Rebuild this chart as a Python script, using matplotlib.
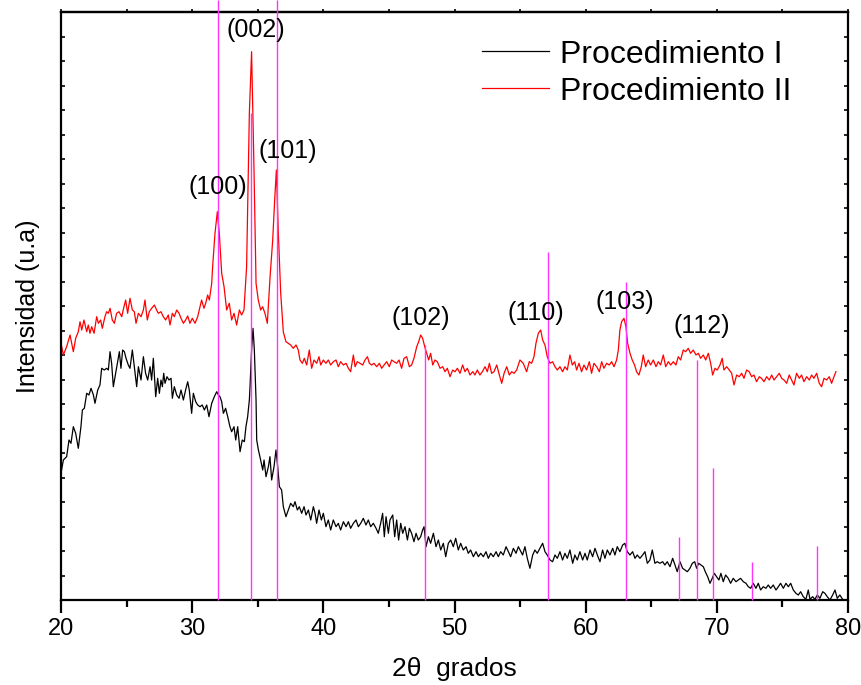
import numpy as np
import matplotlib.pyplot as plt
from matplotlib.ticker import MultipleLocator

plt.rcParams['font.family'] = ['Liberation Sans', 'DejaVu Sans']

# Procedimiento I (black)
two_theta_1 = [
    20.00, 20.18, 20.43, 20.61, 20.76, 20.94, 21.12, 21.32, 21.52, 21.63, 21.78, 21.96, 22.13, 22.29, 22.47,
    22.59, 22.80, 22.97, 23.10, 23.30, 23.48, 23.61, 23.74, 23.86, 23.99, 24.12, 24.29, 24.45, 24.57, 24.70,
    24.83, 24.96, 25.13, 25.26, 25.44, 25.59, 25.77, 25.90, 26.10, 26.28, 26.45, 26.61, 26.79, 26.91, 27.04,
    27.22, 27.37, 27.50, 27.62, 27.73, 27.83, 27.93, 28.08, 28.23, 28.39, 28.49, 28.64, 28.82, 29.00, 29.15,
    29.33, 29.50, 29.66, 29.78, 29.96, 30.09, 30.27, 30.42, 30.60, 30.77, 30.93, 31.11, 31.28, 31.49, 31.69,
    31.87, 32.00, 32.12, 32.25, 32.38, 32.55, 32.71, 32.88, 33.01, 33.19, 33.32, 33.47, 33.65, 33.82, 33.98,
    34.10, 34.23, 34.36, 34.41, 34.53, 34.64, 34.74, 34.87, 34.92, 35.05, 35.22, 35.38, 35.48, 35.63, 35.81,
    35.93, 36.06, 36.24, 36.39, 36.52, 36.65, 36.82, 36.95, 37.15, 37.33, 37.51, 37.71, 37.84, 38.02, 38.17,
    38.35, 38.53, 38.68, 38.86, 39.04, 39.24, 39.37, 39.49, 39.67, 39.85, 40.00, 40.20, 40.38, 40.56, 40.76,
    40.97, 41.14, 41.32, 41.53, 41.73, 41.91, 42.08, 42.29, 42.49, 42.67, 42.85, 43.05, 43.25, 43.43, 43.61,
    43.81, 44.02, 44.19, 44.37, 44.52, 44.65, 44.78, 44.96, 45.08, 45.29, 45.44, 45.59, 45.74, 45.90, 46.05,
    46.23, 46.41, 46.56, 46.73, 46.91, 47.07, 47.24, 47.42, 47.57, 47.68, 47.83, 48.01, 48.18, 48.39, 48.59,
    48.77, 48.95, 49.15, 49.33, 49.53, 49.71, 49.91, 50.09, 50.29, 50.47, 50.67, 50.88, 51.05, 51.23, 51.44,
    51.64, 51.82, 52.00, 52.20, 52.40, 52.58, 52.76, 52.96, 53.17, 53.34, 53.52, 53.72, 53.93, 54.11, 54.28,
    54.49, 54.69, 54.87, 55.19, 55.37, 55.55, 55.75, 55.96, 56.13, 56.31, 56.51, 56.72, 56.90, 57.07, 57.28,
    57.48, 57.66, 57.84, 58.04, 58.24, 58.42, 58.60, 58.80, 59.01, 59.18, 59.36, 59.56, 59.77, 59.95, 60.12,
    60.33, 60.53, 60.71, 60.89, 61.09, 61.29, 61.47, 61.65, 61.85, 62.06, 62.23, 62.41, 62.61, 62.82, 62.99,
    63.17, 63.38, 63.58, 63.76, 63.93, 64.14, 64.34, 64.52, 64.70, 64.90, 65.08, 65.28, 65.46, 65.66, 65.87,
    66.04, 66.22, 66.43, 66.63, 66.81, 66.98, 67.19, 67.39, 67.57, 67.75, 67.95, 68.13, 68.31, 68.46, 68.61,
    68.79, 68.97, 69.12, 69.30, 69.48, 69.65, 69.81, 69.98, 70.16, 70.31, 70.49, 70.67, 70.87, 71.05, 71.25,
    71.46, 71.63, 71.81, 72.02, 72.22, 72.40, 72.58, 72.78, 72.98, 73.16, 73.34, 73.54, 73.74, 73.92, 74.10,
    74.30, 74.51, 74.69, 74.86, 75.07, 75.27, 75.45, 75.63, 75.83, 76.03, 76.21, 76.39, 76.59, 76.79, 76.97,
    77.10, 77.30, 77.48, 77.66, 77.86, 78.07, 78.24, 78.42, 78.62, 78.83, 79.01, 79.18, 79.38, 79.59,
]
counts_1 = [
    126.7, 140.0, 143.3, 160.0, 156.7, 173.3, 166.7, 151.7, 173.3, 190.0, 191.7, 206.7, 205.0, 211.7, 205.0,
    196.7, 210.0, 215.0, 231.7, 230.0, 231.7, 230.0, 248.3, 236.7, 213.3, 223.3, 236.7, 248.3, 231.7, 250.0,
    248.3, 241.7, 235.0, 231.7, 250.0, 233.3, 213.3, 233.3, 220.0, 243.3, 226.7, 220.0, 233.3, 220.0, 241.7,
    203.3, 221.7, 206.7, 220.0, 213.3, 226.7, 216.7, 223.3, 220.0, 221.7, 201.7, 213.3, 205.0, 201.7, 210.0,
    200.0, 210.0, 218.3, 210.0, 186.7, 206.7, 198.3, 195.0, 193.3, 195.0, 190.0, 195.0, 183.3, 196.7, 203.3,
    208.3, 205.0, 203.3, 198.3, 186.7, 191.7, 183.3, 173.3, 168.3, 173.3, 160.0, 173.3, 148.3, 160.0, 158.3,
    173.3, 183.3, 200.0, 213.3, 250.0, 271.7, 250.0, 200.0, 160.0, 150.0, 140.0, 130.0, 140.0, 123.3, 133.3,
    143.3, 120.0, 133.3, 150.0, 133.3, 113.3, 110.0, 93.3, 83.3, 90.0, 96.7, 93.3, 98.3, 90.0, 93.3,
    86.7, 93.3, 85.0, 90.0, 80.0, 93.3, 86.7, 76.7, 90.0, 80.0, 86.7, 73.3, 80.0, 70.0, 80.0,
    73.3, 76.7, 70.0, 78.3, 73.3, 78.3, 71.7, 76.7, 80.0, 73.3, 76.7, 81.7, 75.0, 80.0, 73.3,
    76.7, 71.7, 66.7, 76.7, 86.7, 63.3, 83.3, 66.7, 80.0, 85.0, 63.3, 80.0, 60.0, 76.7, 66.7,
    73.3, 60.0, 71.7, 66.7, 58.3, 66.7, 60.0, 63.3, 70.0, 73.3, 53.3, 63.3, 56.7, 66.7, 53.3,
    60.0, 50.0, 56.7, 43.3, 56.7, 60.0, 53.3, 61.7, 50.0, 56.7, 50.0, 53.3, 46.7, 50.0, 43.3,
    48.3, 43.3, 46.7, 43.3, 48.3, 41.7, 46.7, 43.3, 48.3, 43.3, 48.3, 45.0, 53.3, 48.3, 43.3,
    51.7, 46.7, 53.3, 45.0, 53.3, 41.7, 31.7, 45.0, 50.0, 46.7, 51.7, 56.7, 48.3, 45.0, 40.0,
    38.3, 45.0, 41.7, 48.3, 40.0, 46.7, 41.7, 50.0, 36.7, 45.0, 40.0, 48.3, 40.0, 46.7, 40.0,
    50.0, 43.3, 51.7, 45.0, 38.3, 50.0, 41.7, 50.0, 45.0, 51.7, 45.0, 53.3, 48.3, 55.0, 56.7,
    48.3, 45.0, 48.3, 41.7, 45.0, 41.7, 45.0, 48.3, 36.7, 40.0, 50.0, 36.7, 38.3, 36.7, 38.3,
    35.0, 38.3, 33.3, 41.7, 35.0, 28.3, 38.3, 31.7, 30.0, 28.3, 31.7, 36.7, 38.3, 31.7, 36.7,
    35.0, 33.3, 28.3, 23.3, 16.7, 21.7, 26.7, 23.3, 20.0, 26.7, 18.3, 25.0, 21.7, 16.7, 21.7,
    18.3, 20.0, 21.7, 18.3, 16.7, 13.3, 11.7, 16.7, 11.7, 16.7, 10.0, 13.3, 11.7, 15.0, 11.7,
    15.0, 10.0, 13.3, 16.7, 11.7, 16.7, 13.3, 16.7, 10.0, 6.7, 5.0, 8.3, 3.3, 0.7, 10.0,
    0.7, 3.3, 0.7, 5.0, 1.7, 8.3, 6.7, 3.3, 0.0, 5.0, 10.0, 1.7, 5.0, 0.7,
]

# Procedimiento II (red)
two_theta_2 = [
    20.00, 20.18, 20.43, 20.69, 20.81, 20.94, 21.12, 21.32, 21.45, 21.58, 21.75, 21.96, 22.08, 22.21, 22.34,
    22.52, 22.72, 22.85, 23.02, 23.15, 23.35, 23.48, 23.61, 23.74, 23.91, 24.07, 24.24, 24.42, 24.63, 24.80,
    24.93, 25.08, 25.26, 25.44, 25.59, 25.72, 25.90, 26.10, 26.28, 26.40, 26.58, 26.73, 26.91, 27.12, 27.29,
    27.42, 27.62, 27.80, 27.98, 28.18, 28.31, 28.49, 28.64, 28.82, 29.00, 29.15, 29.33, 29.50, 29.66, 29.83,
    30.01, 30.22, 30.42, 30.60, 30.72, 30.90, 31.03, 31.18, 31.31, 31.49, 31.56, 31.74, 31.92, 32.07, 32.25,
    32.43, 32.63, 32.83, 33.01, 33.19, 33.39, 33.60, 33.77, 33.95, 34.15, 34.36, 34.53, 34.71, 34.87, 35.04,
    35.22, 35.37, 35.55, 35.73, 35.94, 36.14, 36.29, 36.42, 36.57, 36.75, 36.95, 37.15, 37.33, 37.51, 37.71,
    37.92, 38.09, 38.22, 38.40, 38.55, 38.73, 38.93, 39.11, 39.29, 39.49, 39.67, 39.80, 40.00, 40.20, 40.38,
    40.56, 40.76, 40.97, 41.14, 41.32, 41.53, 41.73, 41.91, 42.08, 42.29, 42.42, 42.59, 42.80, 43.00, 43.18,
    43.36, 43.51, 43.69, 43.86, 44.07, 44.27, 44.45, 44.63, 44.83, 45.03, 45.21, 45.39, 45.59, 45.77, 45.97,
    46.15, 46.35, 46.56, 46.73, 46.91, 47.12, 47.27, 47.42, 47.57, 47.73, 47.88, 48.03, 48.18, 48.34, 48.51,
    48.69, 48.90, 49.10, 49.28, 49.45, 49.66, 49.86, 50.04, 50.22, 50.42, 50.62, 50.80, 50.98, 51.18, 51.39,
    51.56, 51.74, 51.94, 52.12, 52.33, 52.50, 52.66, 52.83, 53.01, 53.22, 53.42, 53.60, 53.78, 53.98, 54.18,
    54.36, 54.54, 54.74, 54.99, 55.24, 55.50, 55.70, 55.88, 56.06, 56.21, 56.39, 56.57, 56.72, 56.90, 57.07,
    57.28, 57.48, 57.66, 57.84, 58.04, 58.24, 58.42, 58.60, 58.80, 58.98, 59.16, 59.31, 59.49, 59.69, 59.87,
    60.07, 60.28, 60.45, 60.63, 60.84, 61.04, 61.22, 61.39, 61.60, 61.80, 61.98, 62.16, 62.36, 62.49, 62.61,
    62.74, 62.92, 63.07, 63.20, 63.38, 63.55, 63.73, 63.88, 64.06, 64.24, 64.39, 64.57, 64.77, 64.95, 65.16,
    65.36, 65.54, 65.71, 65.92, 66.10, 66.30, 66.48, 66.68, 66.88, 67.06, 67.24, 67.44, 67.62, 67.82, 68.00,
    68.20, 68.41, 68.59, 68.76, 68.97, 69.15, 69.35, 69.53, 69.68, 69.86, 70.03, 70.24, 70.41, 70.54, 70.75,
    70.95, 71.13, 71.31, 71.51, 71.71, 71.89, 72.07, 72.27, 72.47, 72.65, 72.83, 73.03, 73.24, 73.41, 73.59,
    73.80, 74.00, 74.18, 74.36, 74.56, 74.76, 74.94, 75.12, 75.32, 75.52, 75.70, 75.88, 76.08, 76.29, 76.46,
    76.64, 76.85, 77.05, 77.23, 77.40, 77.61, 77.81, 77.99, 78.17, 78.37, 78.57, 78.75, 78.93, 79.08,
]
counts_2 = [
    256.7, 245.0, 253.3, 265.0, 256.7, 248.3, 261.7, 268.3, 278.3, 270.0, 280.0, 268.3, 275.0, 266.7, 273.3,
    266.7, 283.3, 276.7, 280.0, 271.7, 283.3, 288.3, 286.7, 291.7, 280.0, 276.7, 286.7, 288.3, 283.3, 293.3,
    300.0, 286.7, 301.7, 290.0, 288.3, 276.7, 286.7, 283.3, 290.0, 300.0, 280.0, 288.3, 291.7, 295.0, 290.0,
    286.7, 288.3, 283.3, 280.0, 285.0, 275.0, 286.7, 283.3, 290.0, 286.7, 281.7, 276.7, 280.0, 284.0, 276.7,
    281.7, 276.7, 283.3, 293.3, 300.0, 291.7, 296.7, 305.0, 300.0, 316.7, 333.3, 366.7, 388.3, 366.7, 326.7,
    313.3, 290.0, 296.7, 280.0, 286.7, 275.0, 290.0, 285.0, 290.0, 333.3, 486.7, 548.3, 433.3, 316.7, 300.0,
    290.0, 293.3, 286.7, 276.7, 323.3, 360.0, 400.0, 430.0, 366.7, 306.7, 268.0, 258.3, 256.7, 255.0, 251.7,
    255.0, 250.0, 240.0, 236.7, 241.7, 235.0, 250.0, 231.7, 240.0, 236.7, 243.3, 235.0, 240.0, 236.7, 240.0,
    235.0, 238.3, 240.0, 233.3, 238.3, 235.0, 236.7, 231.7, 228.3, 245.0, 233.3, 238.3, 236.7, 235.0, 240.0,
    243.3, 236.7, 235.0, 236.7, 233.3, 236.7, 231.7, 235.0, 238.3, 233.3, 240.0, 238.3, 236.7, 240.0, 231.7,
    241.7, 243.3, 233.3, 235.0, 241.7, 253.3, 258.3, 265.0, 261.7, 253.3, 246.7, 240.0, 246.7, 235.0, 240.0,
    238.3, 231.7, 233.3, 228.3, 231.7, 223.3, 230.0, 228.3, 231.7, 226.7, 235.0, 228.3, 231.7, 225.0, 228.3,
    225.0, 230.0, 225.0, 228.3, 233.3, 228.3, 236.7, 226.7, 228.3, 235.0, 225.0, 216.7, 226.7, 233.3, 225.0,
    228.3, 226.7, 230.0, 240.0, 236.7, 228.3, 238.3, 236.7, 243.3, 256.7, 266.7, 270.0, 260.0, 255.0, 243.3,
    236.7, 238.3, 233.3, 230.0, 233.3, 228.3, 233.3, 230.0, 245.0, 235.0, 238.3, 230.0, 236.7, 228.3, 235.0,
    230.0, 238.3, 226.7, 236.7, 233.3, 228.3, 238.3, 231.7, 236.7, 235.0, 238.3, 233.3, 240.0, 250.0, 270.0,
    278.3, 281.7, 273.3, 256.7, 246.7, 240.0, 235.0, 228.3, 225.0, 233.3, 245.0, 233.3, 240.0, 235.0, 240.0,
    233.3, 238.3, 235.0, 245.0, 233.3, 238.3, 235.0, 238.3, 235.0, 243.3, 240.0, 250.0, 248.3, 251.7, 246.7,
    250.0, 245.0, 246.7, 241.7, 245.0, 240.0, 246.7, 236.7, 225.0, 231.7, 230.0, 235.0, 241.7, 230.0, 233.3,
    230.0, 226.7, 215.0, 225.0, 223.3, 226.7, 221.7, 230.0, 228.3, 223.3, 225.0, 218.3, 223.3, 221.7, 218.3,
    223.3, 220.0, 225.0, 220.0, 223.3, 226.7, 221.7, 220.0, 216.7, 225.0, 220.0, 215.0, 226.7, 221.7, 225.0,
    218.3, 223.3, 220.0, 225.0, 221.7, 226.7, 216.7, 213.3, 221.7, 220.0, 223.3, 216.7, 223.3, 228.3,
]

# ZnO reference pattern
ref_2theta = [32.00, 34.45, 36.47, 47.75, 57.13, 63.07, 67.08, 68.45, 69.71, 72.65, 77.63]
ref_intensity = [600, 487, 600, 255, 348, 318, 63, 240, 132, 38, 54]

# Miller indices and where their peaks sit
hkl = ['(100)', '(002)', '(101)', '(102)', '(110)', '(103)', '(112)']
hkl_2theta = [31.92, 34.53, 36.42, 47.42, 56.57, 62.92, 68.2]

fig = plt.figure(figsize=(8.61, 6.85), dpi=100)
ax = fig.add_axes([61 / 861, 1 - 600 / 685, 787 / 861, 588 / 685])

ax.plot(two_theta_1, counts_1, color='black', lw=0.9, label='Procedimiento I')
ax.plot(two_theta_2, counts_2, color='red', lw=0.9, label='Procedimiento II')
ax.vlines(ref_2theta, 0, ref_intensity, color='#ff33ff', lw=1.0, clip_on=False, zorder=3)

# peak labels, nudged above the red maxima
nudge = [(0, 25), (4, 22), (11, 19), (0, 17), (-5, 17), (1, 16), (9, 22)]
tt2 = np.array(two_theta_2)
cc2 = np.array(counts_2)
for lab, x0, (dx, dy) in zip(hkl, hkl_2theta, nudge):
    win = np.abs(tt2 - x0) < 0.5
    ytop = cc2[win].max()
    ax.annotate(lab, (x0, ytop), xytext=(dx, dy), textcoords='offset pixels',
                ha='center', va='center', fontsize=18)

ax.set_xlim(20, 80)
ax.set_ylim(0, 588)
ax.xaxis.set_major_locator(MultipleLocator(10))
ax.xaxis.set_minor_locator(MultipleLocator(5))
ax.yaxis.set_major_locator(MultipleLocator(24.5))
ax.tick_params(axis='x', which='major', direction='out', length=9, width=1.6, labelsize=17, pad=4)
ax.tick_params(axis='x', which='minor', direction='out', length=5, width=1.6)
ax.tick_params(axis='y', which='major', direction='in', length=3, width=1.2,
               left=True, right=True, labelleft=False)
for s in ax.spines.values():
    s.set_linewidth(1.6)

top = ax.secondary_xaxis('top')
top.xaxis.set_major_locator(MultipleLocator(5))
top.tick_params(direction='out', length=2, width=1.2, labeltop=False)
top.spines['top'].set_linewidth(1.6)

ax.set_xlabel('2\u03b8  grados', fontsize=19, labelpad=12)
ax.set_ylabel('Intensidad (u.a)', fontsize=18, labelpad=15)

ax.legend(loc='upper left', bbox_to_anchor=(0.535, 0.953), frameon=False, fontsize=23,
          handlelength=2.1, handletextpad=0.35, labelspacing=0.22, borderpad=0, borderaxespad=0)

fig.savefig('out.png', dpi=100)
